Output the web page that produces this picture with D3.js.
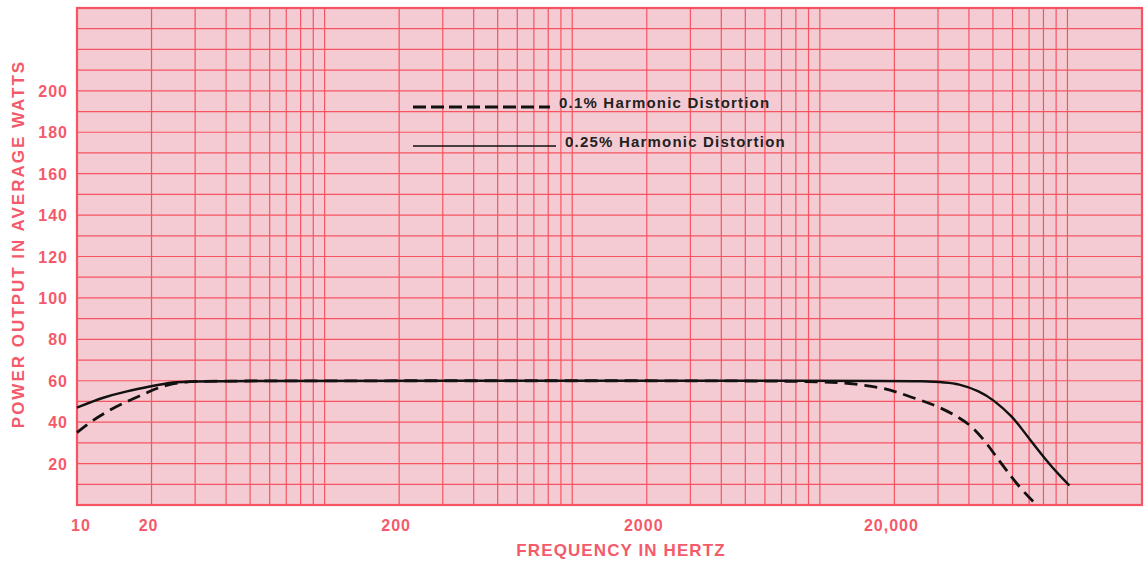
<!DOCTYPE html>
<html>
  <head>
    <meta charset="utf-8" />
    <title>Power Output vs Frequency</title>
    <script src="https://d3js.org/d3.v7.min.js" charset="utf-8"></script>
    <style>
      body { margin: 0; background: #ffffff; }
      text { font-family: "Liberation Sans", Arial, sans-serif; font-weight: bold; }
    </style>
  </head>
  <body>
    <svg id="canvas" width="1144" height="563"></svg>
    <script>
      // x ticks (hertz) and y ticks (watts)
      var xTickValues = [10, 20, 200, 2000, 20000];
      var xTickLabels = ["10", "20", "200", "2000", "20,000"];
      var yTickValues = [20, 40, 60, 80, 100, 120, 140, 160, 180, 200];

      // 0.25% harmonic distortion (solid)
      var solidFreq = [10, 12.7, 15.9, 20, 24.4, 30, 1000, 10000, 30000, 36650, 44150, 50000, 60000, 65800, 72300, 82300, 92900, 101900];
      var solidWatts = [47, 52, 55, 57.4, 59.4, 60, 60, 60, 60, 58.4, 55, 51, 42.7, 36.3, 30, 21.4, 14.3, 9.4];

      // 0.1% harmonic distortion (dashed)
      var dashFreq = [10, 11.6, 13.6, 15.9, 18.5, 21, 23.7, 27.8, 30, 1000, 11000, 14000, 17400, 20600, 24900, 30100, 36650, 41350, 47100, 51700, 56700, 64000, 73600];
      var dashWatts = [35, 41, 46, 50, 53.4, 56.4, 58.4, 59.4, 60, 60, 60, 58.3, 56.9, 54.5, 51, 47.6, 42.2, 37.8, 30, 23.1, 16.8, 8.5, 1];

      var legendLabels = ["0.1% Harmonic Distortion", "0.25% Harmonic Distortion"];

      var pink = "#f4cbd2",
        gridRed = "#f65462",
        textRed = "#f45a6a";

      var canvas = d3.select("#canvas");

      var x = d3.scaleLog().domain([10, 200000]).range([77, 1142]);
      var y = d3.scaleLinear().domain([0, 240]).range([505, 8]);

      // paper
      canvas
        .append("rect")
        .attr("x", x(10))
        .attr("y", y(240))
        .attr("width", x(200000) - x(10))
        .attr("height", y(0) - y(240))
        .attr("fill", pink);

      // vertical grid: 1..9 in each decade
      var vLines = [];
      for (var dec = 10; dec < 200000; dec *= 10) {
        for (var m = 1; m < 10; m++) {
          if (dec * m <= 200000) vLines.push(dec * m);
        }
      }
      canvas
        .append("g")
        .selectAll("line")
        .data(vLines)
        .enter()
        .append("line")
        .attr("x1", function (d) { return x(d); })
        .attr("x2", function (d) { return x(d); })
        .attr("y1", y(0))
        .attr("y2", y(240))
        .attr("stroke", gridRed)
        .attr("stroke-width", 1.2);

      // horizontal grid every 10 watts
      canvas
        .append("g")
        .selectAll("line")
        .data(d3.range(0, 241, 10))
        .enter()
        .append("line")
        .attr("x1", x(10))
        .attr("x2", x(200000))
        .attr("y1", function (d) { return y(d); })
        .attr("y2", function (d) { return y(d); })
        .attr("stroke", gridRed)
        .attr("stroke-width", 1.2);

      // frame
      canvas
        .append("rect")
        .attr("x", x(10))
        .attr("y", y(240))
        .attr("width", x(200000) - x(10))
        .attr("height", y(0) - y(240))
        .attr("fill", "none")
        .attr("stroke", gridRed)
        .attr("stroke-width", 2.2);

      // y tick labels
      canvas
        .append("g")
        .selectAll("text")
        .data(yTickValues)
        .enter()
        .append("text")
        .attr("x", 68)
        .attr("y", function (d) { return y(d) + 6; })
        .attr("text-anchor", "end")
        .attr("fill", textRed)
        .style("font-size", "16px")
        .style("letter-spacing", "1px")
        .text(function (d) { return d; });

      // x tick labels
      canvas
        .append("g")
        .selectAll("text")
        .data(xTickValues)
        .enter()
        .append("text")
        .attr("x", function (d, i) { return x(d) + (i == 0 ? 4 : -3); })
        .attr("y", 531)
        .attr("text-anchor", "middle")
        .attr("fill", textRed)
        .style("font-size", "16px")
        .style("letter-spacing", "1px")
        .text(function (d, i) { return xTickLabels[i]; });

      // axis titles
      canvas
        .append("text")
        .attr("x", 621)
        .attr("y", 556)
        .attr("text-anchor", "middle")
        .attr("fill", textRed)
        .style("font-size", "17px")
        .style("letter-spacing", "1.1px")
        .text("FREQUENCY IN HERTZ");

      canvas
        .append("text")
        .attr("transform", "translate(24,244) rotate(-90)")
        .attr("text-anchor", "middle")
        .attr("fill", textRed)
        .style("font-size", "17px")
        .style("letter-spacing", "2px")
        .text("POWER OUTPUT IN AVERAGE WATTS");

      // curves (smoothed through the read-off points)
      var line = d3
        .line()
        .x(function (d) { return x(d[0]); })
        .y(function (d) { return y(d[1]); })
        .curve(d3.curveBasis);

      canvas
        .append("path")
        .datum(d3.zip(dashFreq, dashWatts))
        .attr("d", line)
        .attr("fill", "none")
        .attr("stroke", "#111")
        .attr("stroke-width", 2.8)
        .attr("stroke-dasharray", "13,7");

      canvas
        .append("path")
        .datum(d3.zip(solidFreq, solidWatts))
        .attr("d", line)
        .attr("fill", "none")
        .attr("stroke", "#111")
        .attr("stroke-width", 2.4);

      // legend
      var legend = canvas.append("g");
      legend
        .append("line")
        .attr("x1", 413)
        .attr("x2", 550)
        .attr("y1", 107)
        .attr("y2", 107)
        .attr("stroke", "#111")
        .attr("stroke-width", 3)
        .attr("stroke-dasharray", "13,5");
      legend
        .append("text")
        .attr("x", 559)
        .attr("y", 108)
        .attr("fill", "#222")
        .style("font-size", "15px")
        .style("letter-spacing", "1.2px")
        .text(legendLabels[0]);
      legend
        .append("line")
        .attr("x1", 413)
        .attr("x2", 556)
        .attr("y1", 146)
        .attr("y2", 146)
        .attr("stroke", "#111")
        .attr("stroke-width", 1.5);
      legend
        .append("text")
        .attr("x", 565)
        .attr("y", 147)
        .attr("fill", "#222")
        .style("font-size", "15px")
        .style("letter-spacing", "1.2px")
        .text(legendLabels[1]);
    </script>
  </body>
</html>
